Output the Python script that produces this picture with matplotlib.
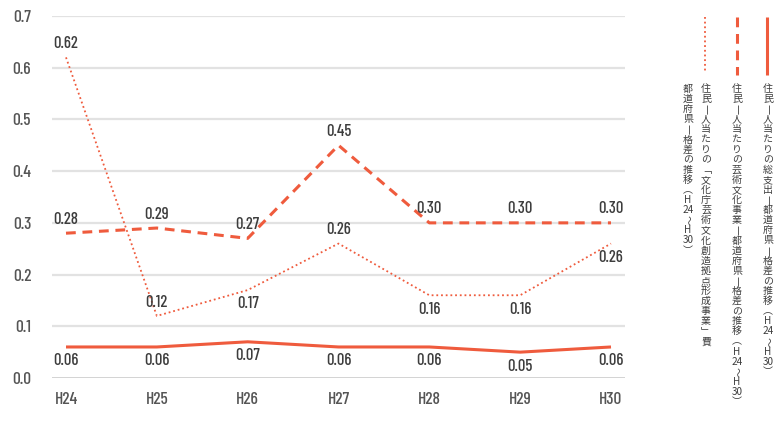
import matplotlib
matplotlib.use("Agg")
import matplotlib.pyplot as plt
from matplotlib import font_manager

# 年度と各指標（都道府県格差）
years = ["H24", "H25", "H26", "H27", "H28", "H29", "H30"]
total_spend = [0.06, 0.06, 0.07, 0.06, 0.06, 0.05, 0.06]
arts_program = [0.28, 0.29, 0.27, 0.45, 0.30, 0.30, 0.30]
bunka_base = [0.62, 0.12, 0.17, 0.26, 0.16, 0.16, 0.26]
yticks = [0.0, 0.1, 0.2, 0.3, 0.4, 0.5, 0.6, 0.7]

# ラベルの上下位置 (+1 上 / -1 下)
total_pos = [-1, -1, -1, -1, -1, -1, -1]
arts_pos = [1, 1, 1, 1, 1, 1, 1]
bunka_pos = [1, 1, -1, 1, -1, -1, -1]

legend_texts = [
    "住民一人当たりの総支出一都道府県一格差の推移（H24～H30）",
    "住民一人当たりの芸術文化事業一都道府県一格差の推移（H24～H30）",
    "住民一人当たりの「文化庁芸術文化創造拠点形成事業」費",
    "都道府県一格差の推移（H24～H30）",
]

RED = "#ef5b3d"
TXT = "#3d3d3d"


def pick_narrow():
    # 数字用のコンデンス書体
    for fam in ["Barlow Condensed", "Roboto Condensed", "Archivo Narrow", "Asap Condensed"]:
        fp = font_manager.FontProperties(family=fam, weight=500)
        try:
            font_manager.findfont(fp, fallback_to_default=False)
            return fp
        except Exception:
            continue
    return font_manager.FontProperties(family="DejaVu Sans", stretch="condensed")


NUM = pick_narrow()

W, H = 777, 436
fig = plt.figure(figsize=(W / 100, H / 100), dpi=100)

x0, x1 = 52, 625
y0, y1 = 378, 16
ax = fig.add_axes([x0 / W, 1 - y0 / H, (x1 - x0) / W, (y0 - y1) / H])
step = (611 - 66) / 6
ax.set_xlim(-(66 - x0) / step, 6 + (x1 - 611) / step)
ax.set_ylim(0, 0.7)
for s in ax.spines.values():
    s.set_visible(False)

for t in yticks[1:]:
    ax.axhline(t, color="#e2e2e2", lw=1.6, zorder=1)
ax.axhline(0, color="#cfcfcf", lw=2.0, zorder=1)

xs = list(range(len(years)))
ax.set_xticks(xs)
ax.set_xticklabels(years)
ax.set_yticks(yticks)
ax.set_yticklabels([f"{v:.1f}" for v in yticks])
ax.tick_params(length=0)
ax.tick_params(axis="y", pad=15)
ax.tick_params(axis="x", pad=10)
for lab in ax.get_xticklabels() + ax.get_yticklabels():
    lab.set_fontproperties(NUM)
    lab.set_fontsize(12.5)
    lab.set_color("#555555")

ax.plot(xs, total_spend, color=RED, lw=2.2, solid_capstyle="butt", zorder=3)
ax.plot(xs, arts_program, color=RED, lw=2.2, dashes=(3.2, 2.2), zorder=3)
ax.plot(xs, bunka_base, color=RED, lw=1.3, linestyle=(0, (1, 1.6)), zorder=3)


def label_series(vals, pos):
    for x, v, p in zip(xs, vals, pos):
        ax.annotate(f"{v:.2f}", (x, v), xytext=(0, 10 * p), textcoords="offset points",
                    ha="center", va="center", fontproperties=NUM, fontsize=12,
                    color=TXT, zorder=4)


label_series(total_spend, total_pos)
label_series(arts_program, arts_pos)
label_series(bunka_base, bunka_pos)

# 凡例（縦書き）
lg = fig.add_axes([0, 0, 1, 1])
lg.set_xlim(0, W)
lg.set_ylim(H, 0)
lg.axis("off")

lg.plot([767, 767], [17, 75], color=RED, lw=2.2, solid_capstyle="butt")
lg.plot([737, 737], [17, 75], color=RED, lw=2.2, dashes=(3.2, 2.2))
lg.plot([705, 705], [17, 72], color=RED, lw=1.3, linestyle=(0, (1, 1.6)))

# 縦組み用の字形
VERT_FORMS = {"（": "︵", "）": "︶", "「": "﹁", "」": "﹂"}
ROTATE = set("一～")
JP = ["Noto Sans CJK JP", "DejaVu Sans"]


def vertical_text(x, y, text, pitch=10.1, size=7.2):
    i = 0
    while i < len(text):
        ch = text[i]
        if ch.isdigit():
            j = i
            while j < len(text) and text[j].isdigit():
                j += 1
            lg.text(x, y, text[i:j], ha="center", va="center", fontsize=size,
                    color=TXT, family=JP)
            i = j
        else:
            rot = -90 if ch in ROTATE else 0
            lg.text(x, y, VERT_FORMS.get(ch, ch), ha="center", va="center",
                    fontsize=size, color=TXT, family=JP, rotation=rot)
            i += 1
        y += pitch


vertical_text(768, 89, legend_texts[0])
vertical_text(737, 89, legend_texts[1])
vertical_text(706, 89, legend_texts[2])
vertical_text(688, 89, legend_texts[3])

fig.savefig("out.png", dpi=100)
